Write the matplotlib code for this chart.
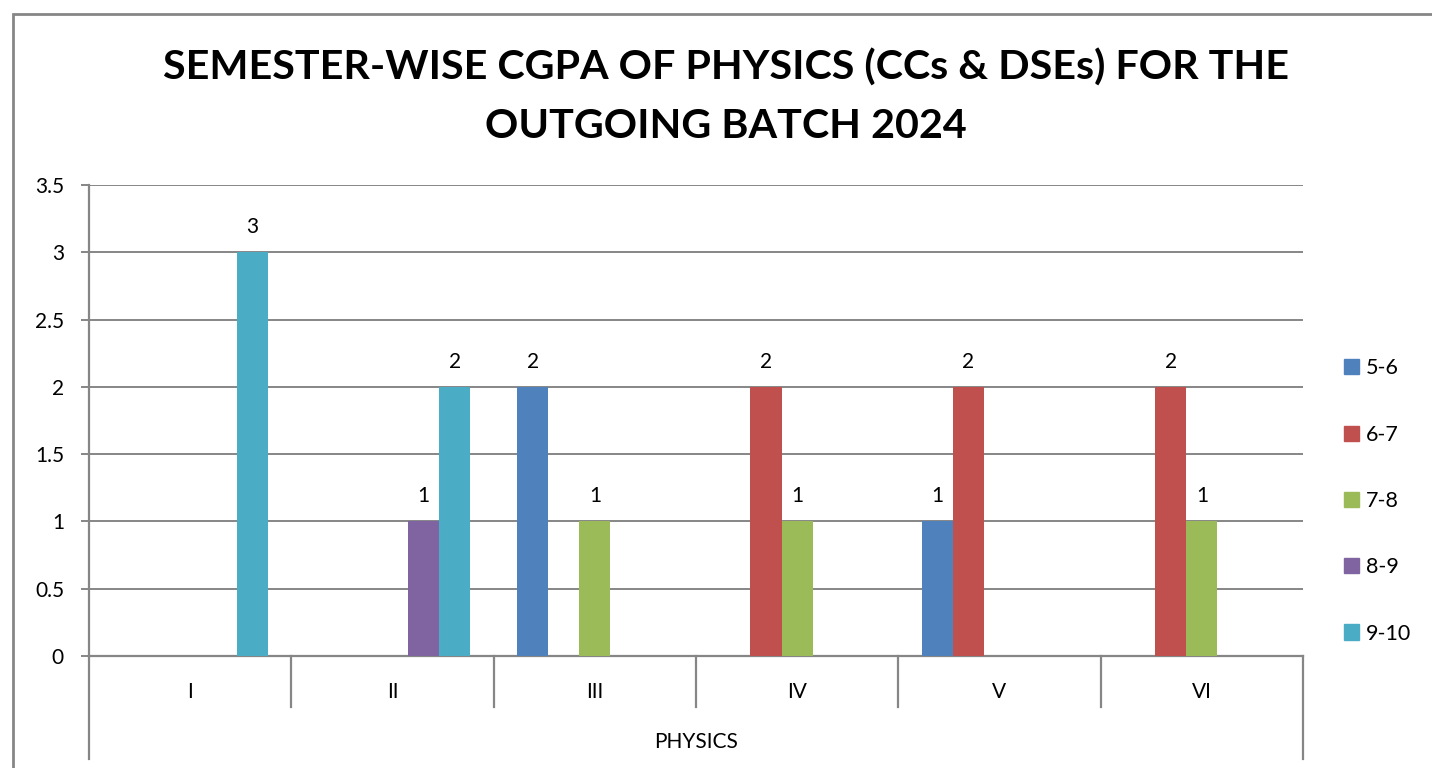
import numpy as np
import matplotlib.pyplot as plt
from matplotlib.patches import Rectangle, Patch
import matplotlib.transforms as mtransforms

# data
semesters = ['I', 'II', 'III', 'IV', 'V', 'VI']
cgpa_ranges = ['5-6', '6-7', '7-8', '8-9', '9-10']
counts_5_6 = [0, 0, 2, 0, 1, 0]
counts_6_7 = [0, 0, 0, 2, 2, 2]
counts_7_8 = [0, 0, 1, 1, 0, 1]
counts_8_9 = [0, 1, 0, 0, 0, 0]
counts_9_10 = [3, 2, 0, 0, 0, 0]
all_counts = [counts_5_6, counts_6_7, counts_7_8, counts_8_9, counts_9_10]
colors = ['#4F81BD', '#C0504D', '#9BBB59', '#8064A2', '#4BACC6']

W, H = 1432, 768
GREY = '#868686'
FS = 15

plt.rcParams['font.family'] = ['Lato', 'DejaVu Sans']
fig = plt.figure(figsize=(W / 100, H / 100), dpi=100)

# outer chart frame (runs past right and bottom edges)
fig.patches.append(Rectangle((13 / W, -0.1), 1.2, 1 - 14 / H + 0.1, transform=fig.transFigure,
                             fill=False, edgecolor=GREY, lw=2))

fig.text(726 / W, 1 - 97 / H, 'SEMESTER-WISE CGPA OF PHYSICS (CCs & DSEs) FOR THE\nOUTGOING BATCH 2024',
         ha='center', va='center', fontsize=29.7, fontweight='bold', linespacing=1.7)

ax = fig.add_axes([89 / W, 1 - 656 / H, (1303 - 89) / W, (656 - 185) / H])
x = np.arange(len(semesters))
n = len(cgpa_ranges)
group = n + 1.5
width = 1 / group
for k, (vals, col, name) in enumerate(zip(all_counts, colors, cgpa_ranges)):
    bars = ax.bar(x + (0.75 + k) / group, vals, width, align='edge', color=col, label=name, zorder=3)
    ax.bar_label(bars, labels=[str(v) if v else '' for v in vals], padding=11, fontsize=FS)

ax.set_xlim(0, len(semesters))
ax.set_ylim(0, 3.5)
ax.set_yticks(np.arange(0, 3.51, 0.5))
ax.set_yticklabels(['0', '0.5', '1', '1.5', '2', '2.5', '3', '3.5'])
ax.set_xticks([])
ax.yaxis.grid(True, color=GREY, lw=1.4, zorder=0)
ax.set_axisbelow(True)
ax.tick_params(axis='y', length=6, width=1.4, color=GREY, pad=12, labelsize=FS)
for s in ['top', 'right']:
    ax.spines[s].set_visible(False)
for s in ['left', 'bottom']:
    ax.spines[s].set_color(GREY)
    ax.spines[s].set_linewidth(1.6)

# multi-level category axis
trans = mtransforms.blended_transform_factory(ax.transData, ax.transAxes)
inner = -51 / 471
outer = -103 / 471
for i in range(1, len(semesters)):
    ax.plot([i, i], [0, inner], transform=trans, color=GREY, lw=1.6, clip_on=False)
for i in [0, len(semesters)]:
    ax.plot([i, i], [0, outer], transform=trans, color=GREY, lw=1.6, clip_on=False)
for i, s in enumerate(semesters):
    ax.text(i + 0.5, -36 / 471, s, transform=trans, ha='center', va='center', fontsize=FS)
ax.text(len(semesters) / 2, -86 / 471, 'PHYSICS', transform=trans, ha='center', va='center', fontsize=FS)

handles = [Patch(color=c, label=l) for c, l in zip(colors, cgpa_ranges)]
fig.legend(handles=handles, loc='center left', bbox_to_anchor=(1344 / W, 1 - 501 / H), frameon=False,
           fontsize=FS + 0.5, handlelength=0.7, handleheight=0.7, handletextpad=0.3, labelspacing=2.15,
           borderpad=0, borderaxespad=0)

fig.savefig('out.png', dpi=100)
